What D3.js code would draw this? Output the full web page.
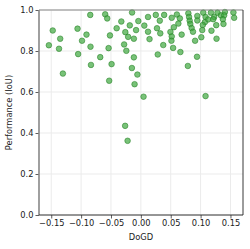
<!DOCTYPE html>
<html>
<head>
<meta charset="utf-8">
<script src="https://cdn.jsdelivr.net/npm/d3@7"></script>
<style>
  body { margin: 0; background: #fff; }
  text { font-family: "DejaVu Sans", sans-serif; }
</style>
</head>
<body>
<svg id="chart" width="250" height="249"></svg>
<script>

// DoGD values (x)
let dogd = [
  -0.154, -0.1475, -0.137, -0.135, -0.1305, -0.106, -0.105, -0.0985, -0.091, -0.0847,
  -0.0843, -0.0835, -0.068, -0.0597, -0.0563, -0.054, -0.0517, -0.049, -0.053, -0.0405,
  -0.0327, -0.028, -0.026, -0.0243, -0.0213, -0.0185, -0.0263, -0.0222, -0.0147, -0.015,
  -0.0117, -0.0117, -0.0105, -0.008, -0.0058, -0.0042, 0.0045, 0.0058, 0.012, 0.012,
  0.0145, 0.025, 0.027, 0.0283, 0.0317, 0.0325, 0.0375, 0.039, 0.0495, 0.0517,
  0.0517, 0.0512, 0.054, 0.0553, 0.0603, 0.0653, 0.0628, 0.0683, 0.0662, 0.0795,
  0.0807, 0.0817, 0.0828, 0.085, 0.0873, 0.0787, 0.0945, 0.0945, 0.0908, 0.094,
  0.1045, 0.1083, 0.1073, 0.1037, 0.1028, 0.1012, 0.1083, 0.1173, 0.1228, 0.1212,
  0.1182, 0.1262, 0.1267, 0.1283, 0.134, 0.1407, 0.1395, 0.1373, 0.1383, 0.155,
  0.1562, 0.1128
];

// Performance (IoU) values (y)
let perf = [
  0.828, 0.900, 0.811, 0.860, 0.690, 0.909, 0.785, 0.850, 0.880, 0.976,
  0.821, 0.732, 0.770, 0.979, 0.959, 0.814, 0.876, 0.736, 0.655, 0.911,
  0.944, 0.832, 0.892, 0.801, 0.869, 0.925, 0.435, 0.362, 0.988, 0.717,
  0.769, 0.860, 0.638, 0.902, 0.685, 0.946, 0.577, 0.924, 0.966, 0.894,
  0.858, 0.976, 0.911, 0.783, 0.948, 0.886, 0.829, 0.976, 0.893, 0.962,
  0.871, 0.850, 0.815, 0.916, 0.978, 0.959, 0.934, 0.880, 0.795, 0.984,
  0.966, 0.948, 0.932, 0.912, 0.894, 0.727, 0.971, 0.949, 0.850, 0.772,
  0.987, 0.966, 0.941, 0.927, 0.902, 0.867, 0.580, 0.987, 0.966, 0.955,
  0.899, 0.926, 0.860, 0.987, 0.974, 0.990, 0.974, 0.955, 0.932, 0.988,
  0.962, 0.954
];

let x_ticks = [-0.15, -0.10, -0.05, 0.00, 0.05, 0.10, 0.15];
let y_ticks = [0.0, 0.2, 0.4, 0.6, 0.8, 1.0];

let x_label = "DoGD";
let y_label = "Performance (IoU)";

let margin = { left: 39, right: 7, top: 10, bottom: 34 };
let W = 250, H = 249;

let svg = d3.select("#chart");

let x = d3.scaleLinear()
    .domain([-0.1705, 0.171])
    .range([margin.left, W - margin.right]);

let y = d3.scaleLinear()
    .domain([0, 1])
    .range([H - margin.bottom, margin.top]);

// grid
let grid = svg.append("g");
grid.selectAll("line.gx")
    .data(x_ticks)
    .enter().append("line")
    .attr("x1", d => x(d)).attr("x2", d => x(d))
    .attr("y1", y(0)).attr("y2", y(1))
    .attr("stroke", "#ebebeb")
    .attr("stroke-width", 1);
grid.selectAll("line.gy")
    .data(y_ticks)
    .enter().append("line")
    .attr("x1", x.range()[0]).attr("x2", x.range()[1])
    .attr("y1", d => y(d)).attr("y2", d => y(d))
    .attr("stroke", "#ebebeb")
    .attr("stroke-width", 1);

// points
svg.append("g").selectAll("circle")
    .data(dogd.map((d, i) => ({ x: d, y: perf[i] })))
    .enter().append("circle")
    .attr("cx", d => x(d.x))
    .attr("cy", d => y(d.y))
    .attr("r", 2.8)
    .attr("fill", "#3fa83f")
    .attr("fill-opacity", 0.7)
    .attr("stroke", "#248024")
    .attr("stroke-opacity", 0.7)
    .attr("stroke-width", 0.8);

// axes
let xAxis = d3.axisBottom(x).tickValues(x_ticks).tickSize(3.5).tickPadding(2)
    .tickFormat(d => d3.format(".2f")(d).replace("-", "\u2212"));
let yAxis = d3.axisLeft(y).tickValues(y_ticks).tickSize(3.5).tickPadding(2)
    .tickFormat(d3.format(".1f"));

let gx = svg.append("g")
    .attr("transform", "translate(0," + y(0) + ")")
    .call(xAxis);
let gy = svg.append("g")
    .attr("transform", "translate(" + x.range()[0] + ",0)")
    .call(yAxis);

[gx, gy].forEach(function(g){
    g.select(".domain").remove();
    g.selectAll(".tick line").attr("stroke", "#333").attr("stroke-width", 0.8);
    g.selectAll(".tick text")
        .attr("fill", "#222")
        .style("font-size", "8.3px");
});

// frame
let x0 = x.range()[0], x1 = x.range()[1], y0 = y(0), y1 = y(1);
svg.append("line").attr("x1", x0).attr("x2", x0).attr("y1", y1).attr("y2", y0)
    .attr("stroke", "#888").attr("stroke-width", 1.6);
svg.append("line").attr("x1", x0).attr("x2", x1).attr("y1", y1).attr("y2", y1)
    .attr("stroke", "#888").attr("stroke-width", 1.2);
svg.append("line").attr("x1", x0).attr("x2", x1).attr("y1", y0).attr("y2", y0)
    .attr("stroke", "#222").attr("stroke-width", 0.9);
svg.append("line").attr("x1", x1).attr("x2", x1).attr("y1", y1).attr("y2", y0)
    .attr("stroke", "#222").attr("stroke-width", 0.9);

// labels
svg.append("text")
    .attr("x", (x0 + x1) / 2)
    .attr("y", 240)
    .attr("text-anchor", "middle")
    .attr("fill", "#222")
    .style("font-size", "8.3px")
    .text(x_label);

svg.append("text")
    .attr("transform", "translate(12," + ((y0 + y1) / 2) + ") rotate(-90)")
    .attr("text-anchor", "middle")
    .attr("fill", "#222")
    .style("font-size", "8.3px")
    .text(y_label);

</script>
</body>
</html>
